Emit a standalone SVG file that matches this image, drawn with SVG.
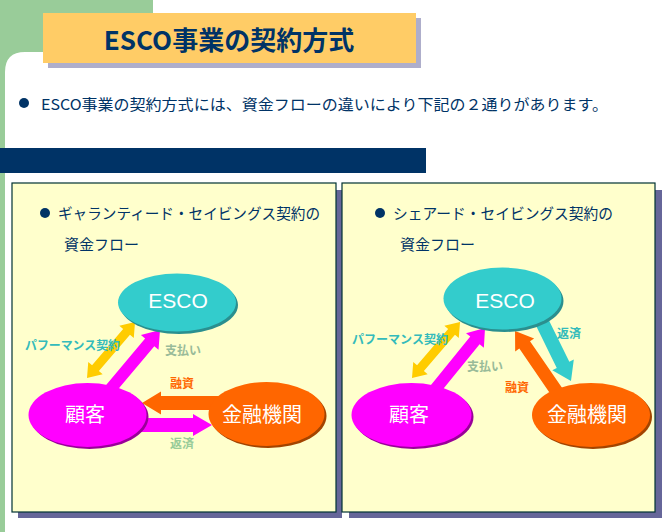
<svg xmlns="http://www.w3.org/2000/svg" width="668" height="532" viewBox="0 0 668 532">
<style>
.jp{font-family:"Noto Sans CJK JP","Liberation Sans",sans-serif}
.navy{fill:#003366}
.panel{fill:#FFFFCC;stroke:#003333;stroke-width:1.2}
.pshadow{fill:#666699}
.nodetext{font-family:"Noto Sans CJK JP","Liberation Sans",sans-serif;fill:#FFFFFF;text-anchor:middle}
.esco{font-family:"Liberation Sans",Arial,sans-serif;fill:#FFFFFF;text-anchor:middle}
.lbl{font-family:"Noto Sans CJK JP","Liberation Sans",sans-serif;font-size:12px;font-weight:bold}
.teal{fill:#33CCCC}
.mag{fill:#FF00FF}
.org{fill:#FF6600}
.yel{fill:#FFCC00}
</style>
<rect x="0" y="0" width="668" height="532" fill="#FFFFFF"/>
<rect x="0" y="0" width="153" height="80" fill="#99CC99"/>
<rect x="0" y="0" width="5" height="532" fill="#99CC99"/>
<path d="M5,532 L5,72 Q5,52 25,52 L153,52 L153,80 L5,80 Z" fill="#FFFFFF"/>
<rect x="25" y="52" width="140" height="40" fill="#FFFFFF"/>
<g id="title">
<rect x="48" y="18" width="373" height="50" fill="#AEAECB"/>
<rect x="43" y="13" width="373" height="50" fill="#FFCC66"/>
<text x="229" y="50" class="jp navy" font-size="26" font-weight="bold" text-anchor="middle">ESCO事業の契約方式</text>
</g>
<g id="intro">
<circle cx="24" cy="103" r="5" class="navy"/>
<text x="41" y="110" class="jp" font-size="15" fill="#003366" textLength="567" lengthAdjust="spacingAndGlyphs">ESCO事業の契約方式には、資金フローの違いにより下記の２通りがあります。</text>
</g>
<rect x="0" y="148" width="426" height="25" fill="#003366"/>
<g id="panel-left">
<rect x="18" y="190" width="324" height="328" class="pshadow"/>
<rect x="12" y="183" width="324" height="329" class="panel"/>
<circle cx="45" cy="213" r="5" class="navy"/>
<text x="58" y="219" class="jp" font-size="15" fill="#003366" textLength="262" lengthAdjust="spacingAndGlyphs">ギャランティード・セイビングス契約の</text>
<text x="64" y="250" class="jp" font-size="15" fill="#003366">資金フロー</text>
</g>
<g id="panel-right">
<rect x="349" y="190" width="313" height="328" class="pshadow"/>
<rect x="342" y="183" width="313" height="329" class="panel"/>
<circle cx="380" cy="213" r="5" class="navy"/>
<text x="393" y="219" class="jp" font-size="15" fill="#003366" textLength="220" lengthAdjust="spacingAndGlyphs">シェアード・セイビングス契約の</text>
<text x="400" y="250" class="jp" font-size="15" fill="#003366">資金フロー</text>
</g>
<g id="connectors">
<polygon class="yel" points="0,0 13,-9.5 13,-4.5 60.8,-4.5 60.8,-9.5 73.8,0 60.8,9.5 60.8,4.5 13,4.5 13,9.5" transform="translate(87,378) rotate(-49.4)"/>
<polygon class="mag" points="0,-6 64.9,-6 64.9,-11.5 80.9,0 64.9,11.5 64.9,6 0,6" transform="translate(108,392) rotate(-50)"/>
<polygon class="org" points="0,-7 64,-7 64,-11.5 83,0 64,11.5 64,7 0,7" transform="translate(225,403) rotate(180)"/>
<polygon class="mag" points="0,-7 68,-7 68,-11 87,0 68,11 68,7 0,7" transform="translate(125,425)"/>
<polygon class="yel" points="0,0 13,-9.5 13,-4.5 60.8,-4.5 60.8,-9.5 73.8,0 60.8,9.5 60.8,4.5 13,4.5 13,9.5" transform="translate(412,378) rotate(-49.4)"/>
<polygon class="mag" points="0,-6 66.5,-6 66.5,-11.5 82.5,0 66.5,11.5 66.5,6 0,6" transform="translate(433,392) rotate(-50.9)"/>
<polygon class="org" points="0,-6.5 57.1,-6.5 57.1,-11.5 74.1,0 57.1,11.5 57.1,6.5 0,6.5" transform="translate(557,392) rotate(-124.5)"/>
<polygon class="teal" points="0,-7 52.2,-7 52.2,-12 70.2,0 52.2,12 52.2,7 0,7" transform="translate(540,318) rotate(63.8)"/>
<text x="25" y="350" class="lbl" fill="#33BBBB" textLength="95" lengthAdjust="spacingAndGlyphs">パフーマンス契約</text>
<text x="165" y="355" class="lbl" fill="#99BB99">支払い</text>
<text x="170" y="388" class="lbl" fill="#FF6600">融資</text>
<text x="170" y="448" class="lbl" fill="#99CC99">返済</text>
<text x="352" y="344" class="lbl" fill="#33BBBB" textLength="96" lengthAdjust="spacingAndGlyphs">パフーマンス契約</text>
<text x="557" y="338" class="lbl" fill="#33BBBB">返済</text>
<text x="467" y="371" class="lbl" fill="#99BB99">支払い</text>
<text x="505" y="392" class="lbl" fill="#FF6600">融資</text>
</g>
<g id="esco-left">
<ellipse cx="179" cy="305" rx="59" ry="29" fill="#2A8F8F"/>
<ellipse cx="177" cy="302.5" rx="59" ry="29" class="teal"/>
<text x="178" y="308" class="esco" font-size="21">ESCO</text>
</g>
<g id="customer-left">
<ellipse cx="89.5" cy="417" rx="59" ry="32" fill="#990099"/>
<ellipse cx="87.5" cy="415" rx="59" ry="32" class="mag"/>
<text x="85" y="422" class="nodetext" font-size="20">顧客</text>
</g>
<g id="bank-left">
<ellipse cx="268.5" cy="416" rx="58" ry="32" fill="#A34400"/>
<ellipse cx="266.5" cy="414" rx="58" ry="32" class="org"/>
<text x="262" y="422" class="nodetext" font-size="20">金融機関</text>
</g>
<g id="esco-right">
<ellipse cx="504.5" cy="301" rx="59" ry="31" fill="#2A8F8F"/>
<ellipse cx="502.5" cy="298.5" rx="59" ry="31" class="teal"/>
<text x="505" y="308" class="esco" font-size="21">ESCO</text>
</g>
<g id="customer-right">
<ellipse cx="413.5" cy="417" rx="60" ry="32" fill="#990099"/>
<ellipse cx="411.5" cy="415" rx="60" ry="32" class="mag"/>
<text x="409" y="422" class="nodetext" font-size="20">顧客</text>
</g>
<g id="bank-right">
<ellipse cx="593" cy="417" rx="59" ry="32" fill="#A34400"/>
<ellipse cx="591" cy="415" rx="59" ry="32" class="org"/>
<text x="587" y="422" class="nodetext" font-size="20">金融機関</text>
</g>
</svg>
